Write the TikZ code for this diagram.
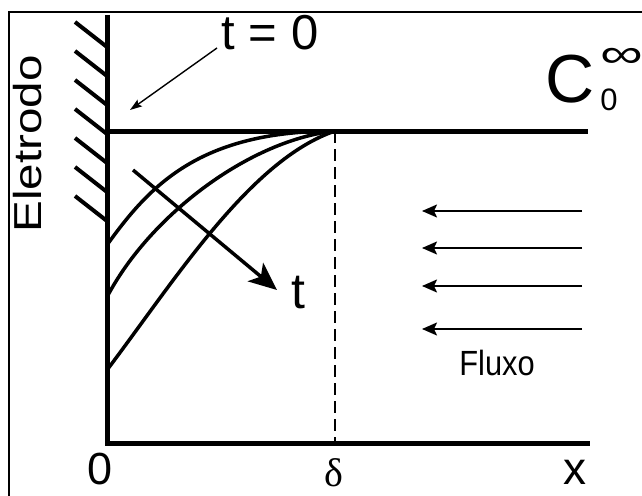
\documentclass[tikz,border=0pt]{standalone}
\usepackage{fontspec}
\setmainfont{Liberation Sans}
\newfontfamily\greekfont{Liberation Serif}
\usetikzlibrary{arrows.meta}
\begin{document}
\begin{tikzpicture}[x=1pt,y=-1pt,
  axis/.style={line width=5pt, line join=miter},
  curve/.style={line width=3.5pt},
  hatch/.style={line width=4pt},
  frame/.style={line width=1.5pt},
  flow/.style={line width=1.8pt,-{Stealth[length=15pt,width=13pt,inset=3pt]}},
  thinarrow/.style={line width=1.4pt,-{Stealth[length=12pt,width=8pt,inset=2pt]}},
  timearrow/.style={line width=3.5pt,-{Stealth[length=28pt,width=24pt,inset=7pt]}},
  lbl/.style={inner sep=0pt, anchor=base}]
\useasboundingbox (0,0) rectangle (642,495);
\fill[white] (0,0) rectangle (642,495);
% frame
\draw[frame] (9,500) -- (9,12) -- (650,12);
% key points
\coordinate (etop) at (107,15);
\coordinate (origin) at (107,443);
\coordinate (xend) at (590,443);
\coordinate (c0) at (107,131);
\coordinate (cend) at (588,131);
\coordinate (delta) at (335,131);
\coordinate (deltab) at (335,443);
% electrode and axes
\draw[axis] (etop) -- (origin) -- (xend);
\draw[axis] (c0) -- (cend);
% hatching
\foreach \y in {22,51,80,109,138,167,196}
  \draw[hatch] (75,\y) -- (107,\y+25);
% concentration profiles
\draw[curve] (107,245) .. controls (150,185) and (200,131) .. (delta);
\draw[curve] (107,297) .. controls (150,215) and (250,140) .. (delta);
\draw[curve] (107,370) .. controls (175,280) and (250,160) .. (delta);
% diffusion layer boundary
\draw[line width=2pt, dash pattern=on 12pt off 6pt] (delta) -- (deltab);
% time arrow
\coordinate (tstart) at (133,170);
\coordinate (ttip) at (277,290);
\draw[timearrow] (tstart) -- (ttip);
\node[lbl, font=\fontsize{50}{50}\selectfont] (tl) at (298,308) {t};
% t = 0 label and arrow
\node[lbl, font=\fontsize{49}{49}\selectfont] (t0) at (270,49) {t = 0};
\coordinate (t0from) at (217,48);
\coordinate (t0to) at (130,110);
\draw[thinarrow] (t0from) -- (t0to);
% Eletrodo
\node[inner sep=0pt, rotate=90] (el) at (28,144) {\scalebox{1.22}[1]{\fontsize{39}{39}\selectfont Eletrodo}};
% C_0^infty
\node[lbl, font=\fontsize{68}{68}\selectfont] (C) at (570,102) {C};
\node[lbl, font=\fontsize{31}{31}\selectfont] (Csub) at (609,110) {0};
\node[inner sep=0pt, anchor=west] (Csup) at (600,58) {\scalebox{1.5}[1]{\fontsize{40}{40}\selectfont ∞}};
% flow arrows
\foreach \y/\n in {211/a,248/b,286/c,329/d}{
  \coordinate (f\n s) at (582,\y);
  \coordinate (f\n e) at (422,\y);
  \draw[flow] (f\n s) -- (f\n e);
}
\node[lbl] (fl) at (497,375) {\scalebox{0.88}[1]{\fontsize{35}{35}\selectfont Fluxo}};
% axis labels
\node[lbl, font=\fontsize{45}{45}\selectfont] (zero) at (100,484) {0};
\node[lbl, font=\fontsize{40}{40}\selectfont\greekfont] (dl) at (334,486) {δ};
\node[lbl, font=\fontsize{46}{46}\selectfont] (xl) at (575,484) {x};
\end{tikzpicture}
\end{document}
